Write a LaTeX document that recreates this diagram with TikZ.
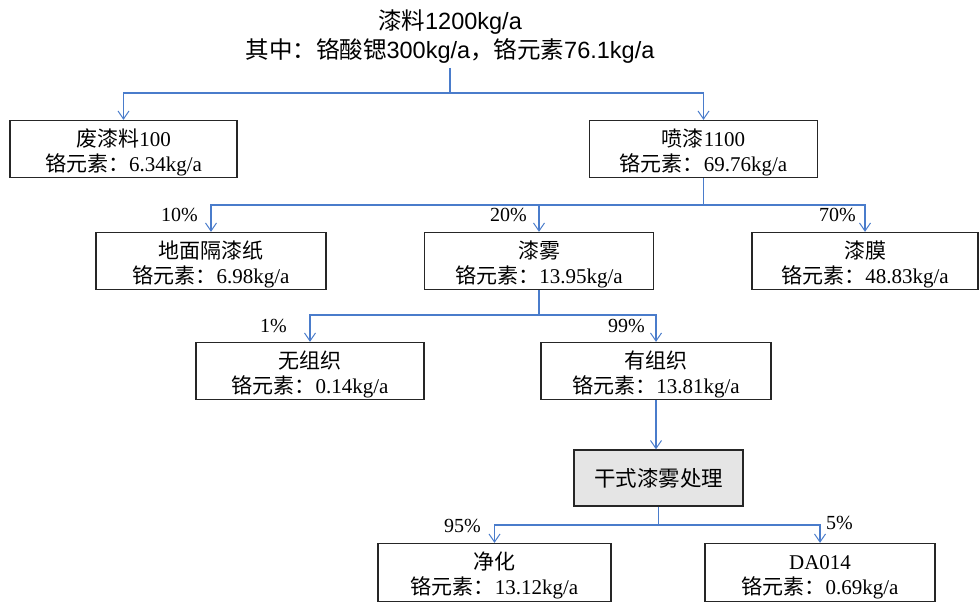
\documentclass[tikz,border=0pt]{standalone}
\usepackage{fontspec}
\setmainfont{Liberation Serif}
\newfontfamily\cjk{Noto Sans CJK SC}
\newfontfamily\arialf{Liberation Sans}
\usetikzlibrary{arrows.meta}
\newcommand\zh[1]{{\cjk #1}}
\newcommand\lowstrut{\rule{0pt}{24pt}}
\definecolor{flowblue}{HTML}{4A7CCB}
\begin{document}
\begin{tikzpicture}[x=1pt,y=-1pt,
  box/.style={draw=black!85,line width=1.3pt,minimum height=57pt,inner sep=0pt,align=center,
    font=\fontsize{21}{25}\selectfont},
  flow/.style={draw=flowblue,line width=1.1pt},
  arr/.style={flow,-{Straight Barb[length=8pt,width=11pt,line width=1pt]}},
  pct/.style={font=\fontsize{20}{22}\selectfont,inner sep=0pt}
]
\useasboundingbox (0,0) rectangle (979,604);
% title
\node[align=center,font=\fontsize{23.5}{29}\selectfont,inner sep=0pt] (top) at (450,37)
  {\zh{漆料}{\arialf 1200kg/a}\\\zh{其中：铬酸锶}{\arialf 300kg/a}\zh{，铬元素}{\arialf 76.1kg/a}};
\coordinate (topb) at (450,68);
% boxes
\node[box,minimum width=227pt] (waste) at (123.5,149) {\lowstrut\zh{废漆料}100\\\zh{铬元素：}6.34kg/a};
\node[box,minimum width=228pt] (spray) at (703.5,149) {\lowstrut\zh{喷漆}1100\\\zh{铬元素：}69.76kg/a};
\node[box,minimum width=230pt] (paper) at (211,261) {\lowstrut\zh{地面隔漆纸}\\\zh{铬元素：}6.98kg/a};
\node[box,minimum width=229pt] (mist) at (539,261) {\lowstrut\zh{漆雾}\\\zh{铬元素：}13.95kg/a};
\node[box,minimum width=226pt] (film) at (865,261) {\lowstrut\zh{漆膜}\\\zh{铬元素：}48.83kg/a};
\node[box,minimum width=228pt] (wu) at (310,371) {\lowstrut\zh{无组织}\\\zh{铬元素：}0.14kg/a};
\node[box,minimum width=230pt] (you) at (656,371) {\lowstrut\zh{有组织}\\\zh{铬元素：}13.81kg/a};
\node[box,minimum width=169pt,minimum height=56pt,fill=black!10,font=\cjk\fontsize{21.5}{25}\selectfont] (dry) at (658.5,478) {干式漆雾处理};
\node[box,minimum width=233pt,minimum height=58pt] (jing) at (494.5,572.5) {\lowstrut\zh{净化}\\\zh{铬元素：}13.12kg/a};
\node[box,minimum width=230pt,minimum height=58pt] (da) at (820,572.5) {\lowstrut DA014\\\zh{铬元素：}0.69kg/a};
% junctions
\coordinate (j1) at (450,93);
\coordinate (j2) at (spray.south |- 0,205);
\coordinate (j3) at (mist.south |- 0,315);
\coordinate (j4) at (dry.south |- 0,525);
% connectors
\draw[flow] (topb) -- (j1);
\draw[arr] (j1) -| (waste.north);
\draw[arr] (j1) -| (spray.north);
\draw[flow] (spray.south) -- (j2);
\draw[arr] (j2) -| (paper.north);
\draw[arr] (j2) -| (mist.north);
\draw[arr] (j2) -| (film.north);
\draw[flow] (mist.south) -- (j3);
\draw[arr] (j3) -| (wu.north);
\draw[arr] (j3) -| (you.north);
\draw[arr] (you.south) -- (you.south |- dry.north);
\draw[flow] (dry.south) -- (j4);
\draw[arr] (j4) -| (jing.north);
\draw[arr] (j4) -| (da.north);
% percent labels
\node[pct,anchor=east] (p10) at (198,215) {10\%};
\node[pct,anchor=east] (p20) at (527,215) {20\%};
\node[pct,anchor=east] (p70) at (856,215) {70\%};
\node[pct,anchor=east] (p1) at (287,326) {1\%};
\node[pct,anchor=east] (p99) at (645,326) {99\%};
\node[pct,anchor=east] (p95) at (481,526) {95\%};
\node[pct,anchor=west] (p5) at (826,523) {5\%};
\end{tikzpicture}
\end{document}
